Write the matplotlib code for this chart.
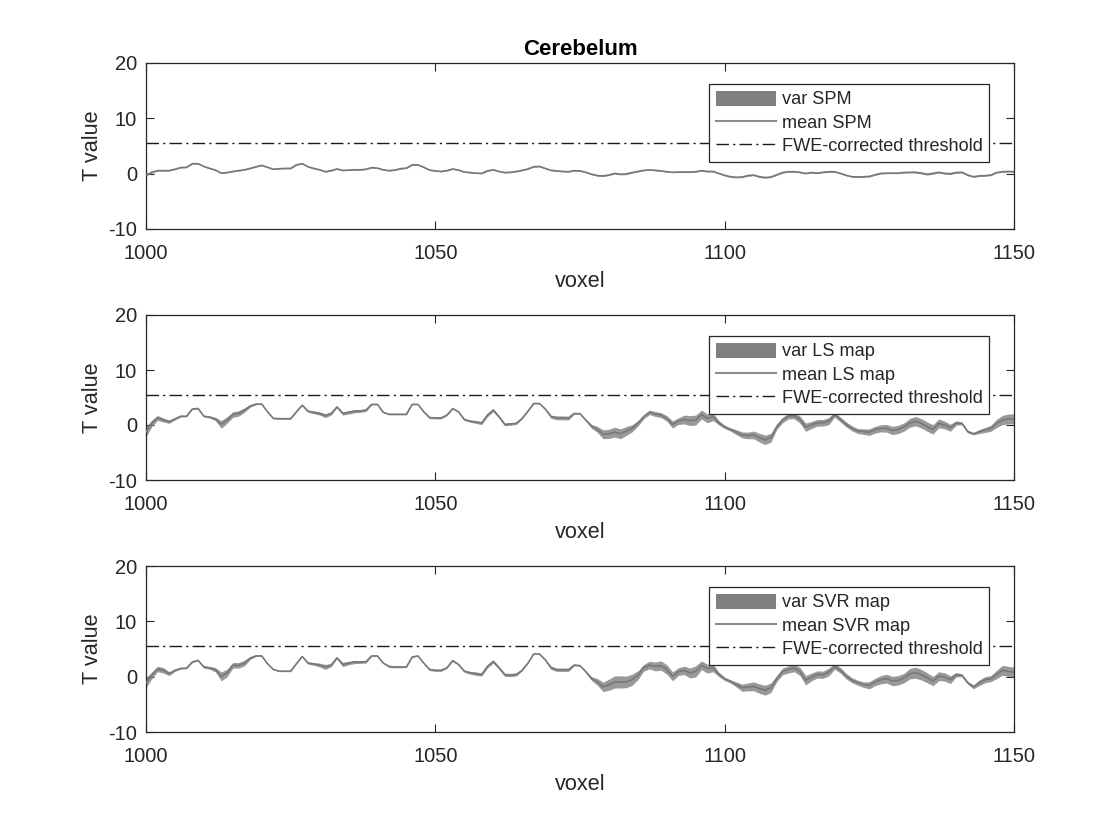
import numpy as np
import matplotlib
matplotlib.use('Agg')
import matplotlib.pyplot as plt
from matplotlib.patches import Patch
from matplotlib.lines import Line2D

plt.rcParams['font.family'] = ['Liberation Sans', 'DejaVu Sans']
plt.rcParams['axes.unicode_minus'] = False

voxels = np.arange(1000, 1151)
threshold = 5.5
title = 'Cerebelum'
methods = ['SPM', 'LS map', 'SVR map']

mean_spm = [-.25,.25,.55,.55,.55,.8,1.1,1.15,1.8,1.8,
 1.3,.95,.65,.1,.2,.4,.55,.7,.95,1.25,
 1.5,1.15,.8,.9,.95,.95,1.6,1.8,1.25,.95,
 .7,.35,.55,.85,.6,.65,.7,.7,.8,1.1,
 1.0,.7,.55,.65,.9,1.0,1.6,1.6,1.15,.65,
 .5,.4,.55,.85,.65,.3,.2,.1,.05,.5,
 .7,.4,.2,.25,.4,.6,.85,1.25,1.3,.95,
 .6,.5,.4,.35,.55,.5,.25,-.1,-.35,-.4,
 -.25,.05,-.1,-.05,.2,.4,.6,.7,.6,.5,
 .35,.25,.3,.3,.3,.35,.55,.4,.4,.05,
 -.3,-.55,-.65,-.6,-.35,-.25,-.55,-.7,-.6,-.2,
 .2,.35,.35,.25,.05,.2,.1,.25,.35,.35,
 .05,-.3,-.55,-.6,-.55,-.5,-.2,.05,.1,.1,
 .1,.2,.25,.25,.1,-.1,.05,.25,.05,0,
 .2,.25,-.25,-.55,-.4,-.35,-.25,.2,.35,.4,.35]
var_spm = [.2,.15,.08,.08,.08,.08,.08,.08,.08,.08,
 .08,.08,.08,.08,.08,.08,.08,.08,.08,.08,
 .08,.08,.08,.08,.08,.08,.08,.08,.08,.08,
 .08,.08,.08,.08,.08,.08,.08,.08,.08,.08,
 .08,.08,.08,.08,.08,.08,.08,.08,.08,.08,
 .08,.08,.08,.08,.08,.08,.08,.08,.08,.08,
 .08,.08,.08,.08,.08,.08,.08,.08,.08,.08,
 .08,.08,.08,.08,.08,.08,.1,.1,.1,.1,
 .1,.1,.12,.12,.1,.1,.08,.08,.08,.08,
 .08,.08,.1,.1,.1,.1,.1,.1,.1,.1,
 .12,.12,.12,.12,.12,.12,.14,.14,.12,.1,
 .1,.1,.1,.1,.1,.1,.1,.1,.12,.12,
 .1,.1,.1,.1,.1,.1,.1,.1,.1,.1,
 .1,.1,.1,.14,.14,.16,.14,.14,.14,.14,
 .12,.12,.12,.12,.12,.12,.12,.1,.1,.1,.14]

mean_ls = [-1.2,.3,1.3,.9,.6,1.1,1.6,1.6,2.9,3.0,
 1.6,1.45,1.1,.1,.9,1.9,2.1,2.7,3.45,3.8,
 3.8,2.4,1.2,1.15,1.15,1.15,2.4,3.6,2.5,2.3,
 2.1,1.7,2.1,3.3,2.1,2.3,2.5,2.55,2.7,3.75,
 3.75,2.3,1.95,1.95,1.95,1.95,3.75,3.75,2.4,1.35,
 1.3,1.3,1.8,3.0,2.4,1.0,.7,.55,.35,1.8,
 2.7,1.5,.1,.2,.3,1.2,2.5,3.9,3.9,2.9,
 1.5,1.3,1.3,1.25,2.1,2.05,.9,-.25,-.8,-1.7,
 -1.6,-1.3,-1.6,-1.1,-.6,.3,1.5,2.3,2.0,1.8,
 1.2,.1,.7,1.0,.8,.9,1.9,1.2,1.5,.4,
 -.35,-.8,-1.3,-1.8,-1.9,-1.8,-2.3,-2.7,-2.3,-.3,
 .9,1.6,1.7,1.0,-.4,0,.4,.4,.7,1.9,
 1.0,.1,-.6,-1.1,-1.2,-1.3,-.85,-.6,-.6,-1.0,
 -.8,-.35,.4,.7,.3,-.3,-.8,.3,0,-.5,
 .35,.3,-1.2,-1.6,-1.2,-.9,-.6,.3,.9,1.1,1.1]
var_ls = [.9,.6,.45,.35,.3,.2,.15,.12,.1,.1,
 .15,.2,.3,.7,.6,.5,.5,.4,.2,.1,
 .05,.05,.1,.1,.1,.1,.05,.05,.2,.25,
 .3,.35,.3,.15,.3,.3,.3,.25,.25,.1,
 .05,.1,.1,.1,.1,.1,.05,.05,.1,.2,
 .2,.2,.1,.1,.1,.2,.2,.25,.3,.3,
 .3,.2,.25,.25,.2,.1,.05,.05,.05,.1,
 .3,.35,.35,.35,.15,.1,.15,.35,.55,.8,
 .85,.9,.9,.8,.65,.5,.4,.4,.45,.45,
 .5,.65,.6,.8,.9,.9,.8,.8,.7,.4,
 .3,.3,.45,.55,.6,.7,.8,.85,.8,.5,
 .5,.5,.55,.65,.75,.65,.6,.6,.65,.45,
 .45,.45,.45,.45,.5,.6,.6,.65,.7,.75,
 .75,.75,.8,.85,.85,.85,.85,.8,.7,.65,
 .4,.25,.25,.2,.35,.45,.55,.75,.85,.9,.9]

mean_svr = [-1.1,.25,1.4,1.15,.55,1.15,1.5,1.55,2.65,2.95,
 1.75,1.6,1.25,.05,.65,2.05,2.05,2.45,3.35,3.75,
 3.75,2.35,1.3,1,1,1,2.35,3.65,2.45,2.3,
 2.1,1.75,2.1,3.4,2.2,2.45,2.65,2.65,2.7,3.75,
 3.75,2.45,1.85,1.75,1.75,1.75,3.55,3.75,2.45,1.3,
 1.15,1.15,1.6,2.9,2.2,1,.7,.55,.4,1.85,
 2.75,1.6,.35,.3,.4,1.15,2.45,4.1,4.1,3.05,
 1.6,1.25,1.25,1.25,2.1,2,.9,-.35,-.95,-1.85,
 -1.45,-.95,-.95,-.95,-.55,.25,1.6,2.1,1.85,2,
 1.3,.05,.9,1.15,.65,.95,2.05,1.45,1.6,.4,
 -.4,-.85,-1.4,-2,-1.85,-1.75,-2.15,-2.45,-2,-.35,
 .95,1.3,1.55,.95,-.65,-.05,.4,.35,.85,1.85,
 1.15,.1,-.65,-1.1,-1.45,-1.55,-.95,-.55,-.35,-.8,
 -.65,-.25,.55,.7,.35,-.2,-.8,.1,-.05,-.55,
 .35,.25,-1.1,-1.85,-1.1,-.55,-.35,.4,1.15,.95,.85]
var_svr = [.9,.6,.5,.5,.35,.2,.15,.12,.1,.1,
 .2,.25,.4,.8,.7,.5,.5,.5,.25,.1,
 .05,.05,.1,.1,.1,.1,.05,.05,.2,.25,
 .35,.45,.3,.15,.4,.3,.3,.25,.25,.1,
 .05,.1,.2,.15,.15,.1,.05,.05,.1,.2,
 .2,.2,.1,.1,.15,.2,.25,.3,.3,.3,
 .3,.25,.3,.3,.25,.1,.05,.05,.05,.1,
 .3,.3,.3,.3,.15,.1,.15,.35,.6,.85,
 1.0,1.1,1.1,1.05,1.0,.8,.6,.7,.8,.85,
 .85,.8,.7,.75,.9,1.0,.8,.8,.7,.4,
 .3,.3,.45,.65,.7,.8,.85,.9,.85,.55,
 .6,.65,.65,.75,.85,.7,.65,.65,.7,.5,
 .5,.5,.45,.45,.5,.65,.65,.75,.8,.85,
 .85,.85,.95,1.0,.95,.9,.85,.8,.75,.7,
 .4,.25,.25,.35,.5,.55,.55,.75,.9,.9,.9]

means = [mean_spm, mean_ls, mean_svr]
variances = [var_spm, var_ls, var_svr]

W, H = 1120, 840
fig = plt.figure(figsize=(W / 100, H / 100), dpi=100)
tops = [63, 315, 566]
bots = [229, 480, 732]
L, R = 146, 1014
INK = '#262626'

for i, name in enumerate(methods):
    ax = fig.add_axes([L / W, 1 - bots[i] / H, (R - L) / W, (bots[i] - tops[i]) / H])
    m = np.array(means[i])
    v = np.array(variances[i])
    ax.fill_between(voxels, m - v, m + v, color='#808080', alpha=.8, lw=0, zorder=2)
    ax.plot(voxels, m, color='#787878', lw=1.2, zorder=3)
    ax.plot([1000, 1150], [threshold, threshold], color='#1a1a1a', lw=1.0,
            dashes=(9, 3, 1.6, 3), zorder=2)
    ax.set_xlim(1000, 1150)
    ax.set_ylim(-10, 20)
    ax.set_xticks([1000, 1050, 1100, 1150])
    ax.set_yticks([-10, 0, 10, 20])
    ax.tick_params(direction='in', length=6, width=.8, color=INK, labelcolor=INK,
                   labelsize=14.5, top=True, right=True)
    ax.tick_params(axis='x', pad=10.5)
    ax.tick_params(axis='y', pad=6.5)
    for s in ax.spines.values():
        s.set_linewidth(.9)
        s.set_color(INK)
    ax.set_xlabel('voxel', fontsize=15.6, color=INK, labelpad=6)
    ax.set_ylabel('T value', fontsize=15.6, color=INK, labelpad=3.5)
    if i == 0:
        ax.set_title(title, fontsize=16, fontweight='bold', color='k', pad=6)
    handles = [Patch(facecolor='#808080', edgecolor='none'),
               Line2D([], [], color='#8c8c8c', lw=1.5),
               Line2D([], [], color='#1a1a1a', lw=1.0, dashes=(9, 3, 1.6, 3))]
    labels = [f'var {name}', f'mean {name}', 'FWE-corrected threshold']
    x0 = (709 - L) / (R - L)
    y1 = 1 - 21 / (bots[i] - tops[i])
    leg = ax.legend(handles, labels, loc='upper left', bbox_to_anchor=(x0, y1),
                    borderaxespad=0, fontsize=13.1, frameon=True, fancybox=False,
                    framealpha=1, edgecolor=INK, handlelength=3.3, handleheight=.9,
                    handletextpad=.33, labelspacing=.3, borderpad=.36, labelcolor=INK)
    leg.get_frame().set_linewidth(.9)

fig.savefig('out.png', dpi=100)
